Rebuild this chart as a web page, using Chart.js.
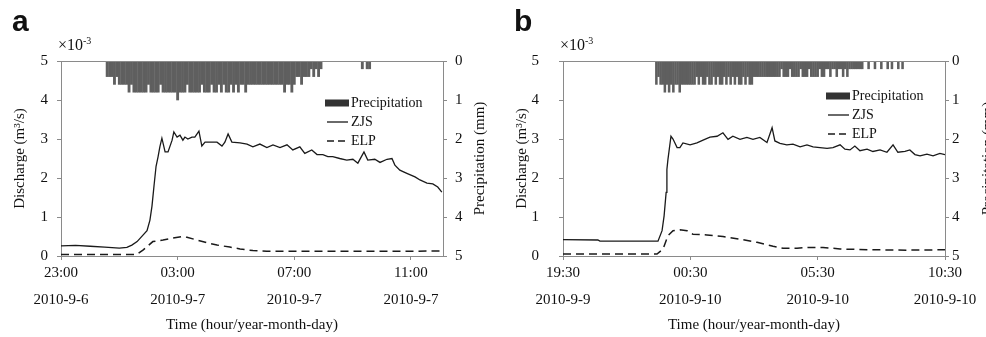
<!DOCTYPE html>
<html lang="en">
<head>
  <meta charset="UTF-8">
  <title>Discharge and precipitation - ZJS / ELP</title>
  <script src="https://cdn.jsdelivr.net/npm/chart.js"></script>
  <style>
    body { margin: 0; width: 986px; height: 337px; overflow: hidden; background: #fff; position: relative; font-family: "Liberation Serif", serif; color: #111; }
    .panel { position: absolute; top: 0; width: 490px; height: 337px; }
    .letter { position: absolute; left: 12px; top: 6px; font: bold 30px "Liberation Sans", Arial, sans-serif; line-height: 30px; }
    .mult { position: absolute; left: 58px; top: 37px; font-size: 16px; line-height: 16px; white-space: nowrap; }
    .mult span { position: relative; top: -6px; font-size: 10px; }
  </style>
</head>
<body>
  <div class="panel" style="left:0px">
    <canvas id="chartA" width="490" height="337"></canvas>
    <div class="letter">a</div>
    <div class="mult">×10<span>-3</span></div>
  </div>
  <div class="panel" style="left:502px">
    <canvas id="chartB" width="490" height="337"></canvas>
    <div class="letter">b</div>
    <div class="mult">×10<span>-3</span></div>
  </div>

  <script>
    // ---- panel a : 23:00 2010-9-6 -> ~12:06 2010-9-7 (x in hours since 23:00)
    const tickHoursA = [0, 4, 8, 12];
    const tickLabelsA = [['23:00', '2010-9-6'], ['03:00', '2010-9-7'], ['07:00', '2010-9-7'], ['11:00', '2010-9-7']];
    const xMaxA = 13.1;

    const zjsHoursA = [0, 0.5, 1.0, 1.5, 2.0, 2.26, 2.43, 2.61, 2.78, 2.95, 3.05, 3.12, 3.19, 3.26, 3.33, 3.39, 3.46, 3.57, 3.67, 3.81,
      3.87, 3.98, 4.08, 4.18, 4.25, 4.35, 4.49, 4.59, 4.73, 4.83, 4.94, 5.18, 5.35, 5.52, 5.62, 5.73, 5.86, 6.14, 6.38, 6.58,
      6.82, 7.06, 7.27, 7.51, 7.75, 7.95, 8.19, 8.36, 8.6, 8.78, 8.98, 9.15, 9.32, 9.56, 9.8, 10.01, 10.18, 10.39, 10.52, 10.76,
      10.94, 11.18, 11.35, 11.45, 11.62, 11.86, 12.14, 12.31, 12.55, 12.75, 12.92, 13.06];
    const zjsA = [0.26, 0.27, 0.25, 0.23, 0.2, 0.22, 0.28, 0.37, 0.51, 0.65, 0.92, 1.28, 1.8, 2.3, 2.55, 2.8, 3.02, 2.67, 2.67, 2.97,
      3.18, 3.05, 3.1, 2.97, 3.05, 3.0, 3.05, 3.05, 3.2, 2.82, 2.92, 2.92, 2.92, 2.82, 2.92, 3.13, 2.92, 2.9, 2.87, 2.8,
      2.87, 2.78, 2.85, 2.78, 2.85, 2.72, 2.8, 2.63, 2.72, 2.6, 2.6, 2.55, 2.55, 2.5, 2.46, 2.48, 2.38, 2.67, 2.46, 2.48,
      2.4, 2.48, 2.5, 2.33, 2.2, 2.12, 2.03, 1.95, 1.87, 1.85, 1.77, 1.64];

    const elpHoursA = [0, 1.5, 2.6, 2.81, 3.15, 3.5, 3.84, 4.15, 4.32, 4.66, 5.0, 5.35, 5.79, 6.14, 6.58, 7.06, 9.32, 11.62, 13.1];
    const elpA = [0.04, 0.04, 0.04, 0.15, 0.37, 0.41, 0.46, 0.5, 0.48, 0.41, 0.34, 0.28, 0.23, 0.18, 0.14, 0.12, 0.12, 0.12, 0.13];

    // precipitation per 5-min step (mm), first value is step 19 after 23:00
    const precipStartA = 19;
    const precipA = [
      0.4, 0.4, 0.4, 0.6, 0.4, 0.6, 0.6, 0.6, 0.6, 0.8, 0.6, 0.8, 0.8,
      0.8, 0.8, 0.8, 0.8, 0.6, 0.8, 0.8, 0.8, 0.8, 0.6, 0.8, 0.8, 0.8, 0.8, 0.8, 0.8,
      1.0,
      0.8, 0.8, 0.8, 0.6, 0.8, 0.8, 0.8, 0.8, 0.8, 0.6, 0.8, 0.8, 0.8, 0.6, 0.8,
      0.8, 0.6, 0.8, 0.6, 0.8, 0.8, 0.6, 0.8, 0.6, 0.8, 0.6, 0.6, 0.8, 0.6, 0.6,
      0.6, 0.6, 0.6, 0.6, 0.6, 0.6, 0.6, 0.6, 0.6, 0.6, 0.6, 0.6,
      0.6, 0.8, 0.6, 0.6, 0.8, 0.6,
      0.4, 0.4, 0.6, 0.4, 0.4, 0.4,
      0.2, 0.4, 0.2, 0.4, 0.2,
      0, 0, 0, 0, 0, 0, 0, 0, 0, 0, 0, 0, 0, 0, 0, 0,
      0.2, 0, 0.2, 0.2, 0];

    // ---- panel b : 19:30 2010-9-9 -> 10:30 2010-9-10 (x in hours since 19:30)
    const tickHoursB = [0, 5, 10, 15];
    const tickLabelsB = [['19:30', '2010-9-9'], ['00:30', '2010-9-10'], ['05:30', '2010-9-10'], ['10:30', '2010-9-10']];
    const xMaxB = 15;

    const zjsHoursB = [0, 1.37, 1.45, 3.73, 3.89, 3.97, 4.05, 4.08, 4.12, 4.24, 4.32, 4.48, 4.59, 4.71, 4.99, 5.26, 5.5, 5.77, 6.05, 6.28,
      6.48, 6.67, 6.95, 7.22, 7.46, 7.73, 8.01, 8.21, 8.32, 8.52, 8.79, 9.03, 9.31, 9.58, 9.82, 10.09, 10.37, 10.6, 10.88, 11.07,
      11.27, 11.46, 11.66, 11.94, 12.17, 12.45, 12.72, 12.96, 13.15, 13.43, 13.62, 13.82, 14.02, 14.29, 14.53, 14.8, 15];
    const zjsB = [0.42, 0.41, 0.38, 0.38, 0.65, 1.03, 1.63, 2.22, 2.47, 3.07, 3.0, 2.78, 2.78, 2.9, 2.85, 2.9, 2.97, 3.05, 3.07, 3.16,
      2.99, 3.07, 2.99, 3.04, 2.99, 3.04, 2.91, 3.29, 2.95, 2.89, 2.85, 2.87, 2.8, 2.85, 2.8, 2.78, 2.76, 2.78, 2.85, 2.74,
      2.72, 2.82, 2.7, 2.74, 2.68, 2.72, 2.66, 2.85, 2.66, 2.68, 2.72, 2.6, 2.57, 2.61, 2.57, 2.63, 2.6];

    const elpHoursB = [0, 3.69, 3.93, 4.12, 4.32, 4.59, 4.87, 5.1, 5.65, 6.28, 6.95, 7.62, 8.25, 8.64, 9.19, 9.7, 10.21, 10.88, 12.17, 13.51, 15];
    const elpB = [0.05, 0.05, 0.18, 0.52, 0.65, 0.67, 0.65, 0.56, 0.54, 0.5, 0.43, 0.35, 0.25, 0.2, 0.2, 0.22, 0.22, 0.18, 0.16, 0.15, 0.16];

    const precipStartB = 44;
    const precipB = [
      0.6, 0.4, 0.6, 0.6,
      0.8, 0.6, 0.8, 0.6, 0.8, 0.6, 0.6, 0.8, 0.6,
      0.6, 0.6, 0.6, 0.6, 0.6, 0.6, 0.4, 0.6, 0.4, 0.6, 0.6, 0.4, 0.6, 0.6,
      0.4, 0.6, 0.4, 0.6, 0.6, 0.4, 0.6, 0.4, 0.6, 0.4, 0.6, 0.4, 0.6, 0.6, 0.4, 0.6, 0.4, 0.6, 0.6, 0.4,
      0.4, 0.4, 0.4, 0.4, 0.4, 0.4, 0.4, 0.4, 0.4, 0.4,
      0.4, 0.4, 0.2, 0.4, 0.4, 0.4, 0.2, 0.4, 0.4, 0.4, 0.4, 0.2, 0.4, 0.4, 0.4, 0.2, 0.4, 0.4, 0.4, 0.4, 0.2, 0.4, 0.4,
      0.2, 0.2, 0.4, 0.2, 0.2, 0.4, 0.2, 0.2, 0.4, 0.2, 0.4,
      0.2, 0.2, 0.2, 0.2, 0.2, 0.2,
      0.2, 0, 0, 0.2, 0, 0, 0.2, 0, 0, 0.2, 0, 0, 0.2, 0, 0.2, 0, 0, 0.2, 0, 0.2, 0];

    const serif = '"Liberation Serif", "Times New Roman", serif';
    const ink = '#111';
    const axisGrey = '#8a8a8a';

    // top frame line, right title (reads upward) and the in-plot legend
    const panelDecor = {
      id: 'panelDecor',
      afterDraw(chart, args, opts) {
        const { ctx, chartArea: a } = chart;
        ctx.save();
        ctx.strokeStyle = axisGrey;
        ctx.lineWidth = 1;
        ctx.beginPath();
        ctx.moveTo(a.left, a.top + 0.5);
        ctx.lineTo(a.right, a.top + 0.5);
        ctx.stroke();

        ctx.fillStyle = ink;
        ctx.font = '15px ' + serif;
        ctx.textAlign = 'center';
        ctx.textBaseline = 'middle';
        ctx.translate(opts.rightTitleX, (a.top + a.bottom) / 2);
        ctx.rotate(-Math.PI / 2);
        ctx.fillText('Precipitation (mm)', 0, 0);
        ctx.restore();

        ctx.save();
        const lx = opts.legendX, ly = opts.legendY, gap = 19;
        ctx.font = '14px ' + serif;
        ctx.textBaseline = 'middle';
        ctx.fillStyle = '#333';
        ctx.fillRect(lx, ly - 3.5, 24, 7);
        ctx.strokeStyle = '#1a1a1a';
        ctx.lineWidth = 1.3;
        ctx.beginPath(); ctx.moveTo(lx + 2, ly + gap); ctx.lineTo(lx + 23, ly + gap); ctx.stroke();
        ctx.setLineDash([7, 4]);
        ctx.lineWidth = 1.5;
        ctx.beginPath(); ctx.moveTo(lx + 2, ly + 2 * gap); ctx.lineTo(lx + 23, ly + 2 * gap); ctx.stroke();
        ctx.setLineDash([]);
        ctx.fillStyle = ink;
        ctx.fillText('Precipitation', lx + 26, ly);
        ctx.fillText('ZJS', lx + 26, ly + gap);
        ctx.fillText('ELP', lx + 26, ly + 2 * gap);
        ctx.restore();
      }
    };

    function pairs(xs, ys) {
      return xs.map((x, i) => ({ x: x, y: ys[i] }));
    }

    function makePanel(id, p) {
      const bars = p.precip.map((v, i) => ({ x: (p.precipStart + i) * 5 / 60, y: v }));
      return new Chart(document.getElementById(id), {
        type: 'bar',
        data: {
          datasets: [
            { type: 'line', label: 'ZJS', data: pairs(p.zjsHours, p.zjs), yAxisID: 'y',
              borderColor: '#1a1a1a', borderWidth: 1.3, pointRadius: 0, tension: 0 },
            { type: 'line', label: 'ELP', data: pairs(p.elpHours, p.elp), yAxisID: 'y',
              borderColor: '#1a1a1a', borderWidth: 1.5, borderDash: [8, 5], pointRadius: 0, tension: 0 },
            { type: 'bar', label: 'Precipitation', data: bars, yAxisID: 'yP',
              backgroundColor: '#5f5f5f', barThickness: p.barW, grouped: false, borderWidth: 0 }
          ]
        },
        options: {
          responsive: false,
          animation: false,
          devicePixelRatio: 1,
          layout: { padding: { top: 61, left: 0, right: 0, bottom: 0 } },
          plugins: {
            legend: { display: false },
            tooltip: { enabled: false },
            panelDecor: { rightTitleX: p.rightTitleX, legendX: p.legendX, legendY: p.legendY }
          },
          scales: {
            x: {
              type: 'linear', min: 0, max: p.xMax, offset: false,
              afterFit: s => { s.height = 81; },
              afterBuildTicks: s => { s.ticks = p.tickHours.map(v => ({ value: v })); },
              ticks: {
                callback: v => p.tickLabels[p.tickHours.indexOf(v)],
                font: { family: serif, size: 15, lineHeight: 1.8 }, color: ink,
                padding: 0, maxRotation: 0, autoSkip: false
              },
              grid: { drawOnChartArea: false, tickLength: 4, color: axisGrey, offset: false },
              border: { color: axisGrey },
              title: { display: true, text: 'Time (hour/year-month-day)', color: ink,
                font: { family: serif, size: 15 }, padding: { top: 0, bottom: 3 } }
            },
            y: {
              position: 'left', min: 0, max: 5,
              afterFit: s => { s.width = 61; },
              ticks: { stepSize: 1, font: { family: serif, size: 15 }, color: ink, padding: p.leftPad },
              grid: { drawOnChartArea: false, tickLength: 4, color: axisGrey },
              border: { color: axisGrey },
              title: { display: true, text: 'Discharge (m³/s)', color: ink,
                font: { family: serif, size: 15 }, padding: { top: 11, bottom: 0 } }
            },
            yP: {
              position: 'right', min: 0, max: 5, reverse: true,
              afterFit: s => { s.width = 47; },
              ticks: { stepSize: 1, font: { family: serif, size: 15 }, color: ink, padding: p.rightPad },
              grid: { drawOnChartArea: false, tickLength: 4, color: axisGrey },
              border: { color: axisGrey }
            }
          }
        },
        plugins: [panelDecor]
      });
    }

    makePanel('chartA', {
      xMax: xMaxA, tickHours: tickHoursA, tickLabels: tickLabelsA,
      zjsHours: zjsHoursA, zjs: zjsA, elpHours: elpHoursA, elp: elpA,
      precipStart: precipStartA, precip: precipA, barW: 2.2,
      leftPad: 9, rightPad: 8, rightTitleX: 480, legendX: 325, legendY: 103
    });
    makePanel('chartB', {
      xMax: xMaxB, tickHours: tickHoursB, tickLabels: tickLabelsB,
      zjsHours: zjsHoursB, zjs: zjsB, elpHours: elpHoursB, elp: elpB,
      precipStart: precipStartB, precip: precipB, barW: 1.9,
      leftPad: 20, rightPad: 3, rightTitleX: 486, legendX: 324, legendY: 96
    });
  </script>
</body>
</html>
